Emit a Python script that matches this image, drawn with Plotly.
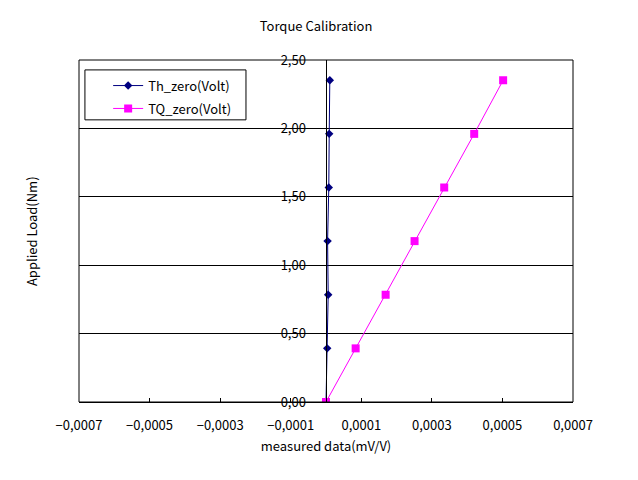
import plotly.graph_objects as go

# applied load (Nm) and measured data (mV/V)
load = [0, 0.392, 0.784, 1.176, 1.568, 1.96, 2.352]
th_zero = [0, 0.0000034, 0.0000062, 0.0000045, 0.0000079, 0.0000091, 0.0000108]
tq_zero = [0, 0.000084, 0.000169, 0.000251, 0.000335, 0.00042, 0.000502]

x_ticks = [-0.0007, -0.0005, -0.0003, -0.0001, 0.0001, 0.0003, 0.0005, 0.0007]

font = 'Noto Sans CJK KR'

th = go.Scatter(
    x=th_zero, y=load, name='Th_zero(Volt)', mode='lines+markers',
    legendgroup='a',
    line=dict(color='#000080', width=1),
    marker=dict(symbol='diamond', size=6.5, color='#000080')
)
tq = go.Scatter(
    x=tq_zero, y=load, name='TQ_zero(Volt)', mode='lines+markers',
    legendgroup='b',
    line=dict(color='#FF00FF', width=1),
    marker=dict(symbol='square', size=8, color='#FF00FF')
)

fig = go.Figure(data=[th, tq])

# page body has an 8px margin, so the figure is a bit smaller than the window
fig.update_layout(
    width=630, height=472,
    paper_bgcolor='white', plot_bgcolor='white',
    margin=dict(l=71, r=65, t=52, b=78, autoexpand=False),
    separators=',.',
    font=dict(family=font, size=13, color='black'),
    title=dict(text='Torque Calibration', x=0.489, xanchor='center', y=0.96, yanchor='middle',
               font=dict(family=font, size=13)),
    xaxis=dict(
        range=[-0.0007, 0.0007], tickvals=x_ticks, tickformat='.4f',
        showgrid=False, zeroline=False,
        showline=True, linecolor='black', linewidth=1,
        ticks='inside', ticklen=4, tickcolor='black',
        ticklabelstandoff=11,
        title=dict(text='measured data(mV/V)', standoff=9, font=dict(size=13)),
        tickfont=dict(size=13)
    ),
    yaxis=dict(
        range=[0, 2.5], dtick=0.5, tickformat='.2f',
        anchor='free', position=0.499,
        showgrid=True, gridcolor='black', gridwidth=1,
        zeroline=False, showline=True, linecolor='black', linewidth=1,
        ticks='outside', ticklen=17, tickcolor='rgba(0,0,0,0)',
        tickfont=dict(size=13)
    ),
    legend=dict(
        x=0.059, y=0.969, xanchor='left', yanchor='top',
        bgcolor='rgba(0,0,0,0)', borderwidth=0,
        font=dict(size=13), tracegroupgap=3
    ),
    showlegend=True
)

# the y title sits at the left edge, away from the centred axis
fig.add_annotation(
    text='Applied Load(Nm)', xref='paper', yref='paper', x=-0.097, y=0.5,
    xanchor='center', yanchor='middle',
    textangle=-90, showarrow=False, font=dict(size=13)
)

# legend box
fig.add_shape(type='rect', xref='paper', yref='paper', x0=0.012, y0=0.825, x1=0.338, y1=0.971,
              line=dict(color='black', width=1), fillcolor='white', layer='above')

# plot area frame
fig.add_shape(type='rect', xref='paper', yref='paper', x0=0, y0=0, x1=1, y1=1,
              line=dict(color='black', width=1), layer='above')

fig.write_html("out.html")
